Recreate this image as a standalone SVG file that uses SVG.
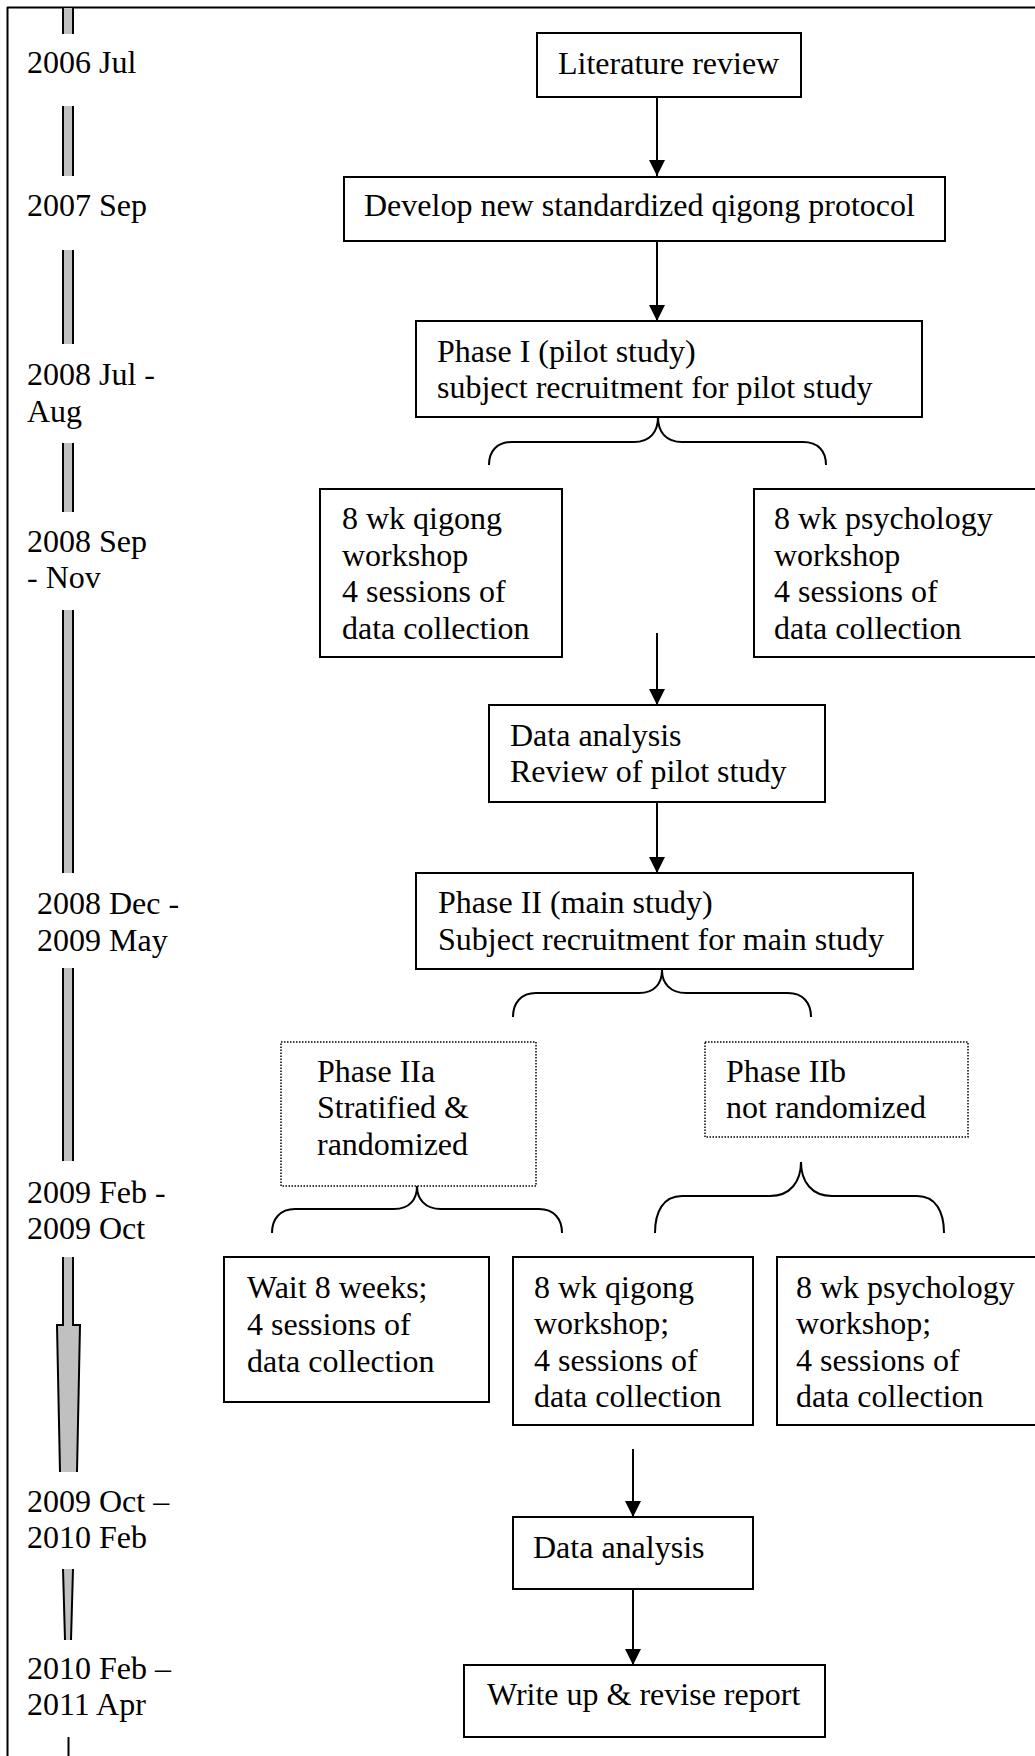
<svg xmlns="http://www.w3.org/2000/svg" width="1035" height="1756" viewBox="0 0 1035 1756">
  <style>
    text { font-family: "Liberation Serif", "Times New Roman", serif; font-size: 32px; fill: #000; }
    .box { fill: #fff; stroke: #000; stroke-width: 2; }
    .dot { fill: #fff; stroke: #000; stroke-width: 1.5; stroke-dasharray: 1.5 1.5; }
    .conn { fill: none; stroke: #000; stroke-width: 2; }
    .bar { fill: #c0c0c0; stroke: none; }
    .edge { fill: none; stroke: #000; stroke-width: 2; }
  </style>
  <defs>
    <marker id="arrow" markerUnits="userSpaceOnUse" markerWidth="16" markerHeight="16" refX="16" refY="8" orient="auto">
      <path d="M0,0 L16,8 L0,16 Z" fill="#000"/>
    </marker>
  </defs>

  <rect x="0" y="0" width="1035" height="1756" fill="#fff"/>

  <!-- frame -->
  <g id="frame">
    <line x1="7" y1="7.5" x2="1035" y2="7.5" stroke="#000" stroke-width="2"/>
    <line x1="7.5" y1="7" x2="7.5" y2="1756" stroke="#000" stroke-width="2"/>
  </g>

  <!-- time axis -->
  <g id="timeline">
    <rect class="bar" x="63" y="8" width="10" height="26"/>
    <path class="edge" d="M63,8 V34 M73,8 V34"/>
    <rect class="bar" x="63" y="106" width="10" height="70"/>
    <path class="edge" d="M63,106 V176 M73,106 V176"/>
    <rect class="bar" x="63" y="250" width="10" height="94"/>
    <path class="edge" d="M63,250 V344 M73,250 V344"/>
    <rect class="bar" x="63" y="443" width="10" height="69"/>
    <path class="edge" d="M63,443 V512 M73,443 V512"/>
    <rect class="bar" x="63" y="610" width="10" height="263"/>
    <path class="edge" d="M63,610 V873 M73,610 V873"/>
    <rect class="bar" x="63" y="968" width="10" height="193"/>
    <path class="edge" d="M63,968 V1161 M73,968 V1161"/>
    <polygon class="bar" points="63,1257 73,1257 73,1325 80,1325 77,1472 60,1472 57,1325 63,1325"/>
    <path class="edge" d="M63,1257 V1325 H57 L60,1472 M73,1257 V1325 H80 L77,1472"/>
    <polygon class="bar" points="63,1569 73,1569 71,1640 65,1640"/>
    <path class="edge" d="M63,1569 L65,1640 M73,1569 L71,1640"/>
    <line x1="68.5" y1="1737" x2="68.5" y2="1756" stroke="#000" stroke-width="2"/>
  </g>

  <!-- dates -->
  <g id="dates">
    <text x="27" y="73">2006 Jul</text>
    <text x="27" y="216">2007 Sep</text>
    <text x="27" y="385">2008 Jul -</text>
    <text x="27" y="422">Aug</text>
    <text x="27" y="552">2008 Sep</text>
    <text x="27" y="588">- Nov</text>
    <text x="37" y="914">2008 Dec -</text>
    <text x="37" y="951">2009 May</text>
    <text x="27" y="1203">2009 Feb -</text>
    <text x="27" y="1239">2009 Oct</text>
    <text x="27" y="1512">2009 Oct –</text>
    <text x="27" y="1548">2010 Feb</text>
    <text x="27" y="1679">2010 Feb –</text>
    <text x="27" y="1715">2011 Apr</text>
  </g>

  <!-- connectors -->
  <g id="connectors">
    <line class="conn" x1="657" y1="97" x2="657" y2="176" marker-end="url(#arrow)"/>
    <line class="conn" x1="657" y1="241" x2="657" y2="321" marker-end="url(#arrow)"/>
    <path class="conn" d="M489,465 C489,451 497,442 512,442 L634,442 C650,442 658,432 658,417 C658,432 666,442 682,442 L803,442 C818,442 826,451 826,465"/>
    <line class="conn" x1="657" y1="633" x2="657" y2="705" marker-end="url(#arrow)"/>
    <line class="conn" x1="657" y1="802" x2="657" y2="873" marker-end="url(#arrow)"/>
    <path class="conn" d="M513,1017 C513,1003 521,993 536,993 L639,993 C655,993 662,983 662,970 C662,983 670,993 686,993 L788,993 C803,993 811,1003 811,1017"/>
    <path class="conn" d="M272,1233 C272,1219 280,1209 295,1209 L394,1209 C410,1209 417,1199 417,1186 C417,1199 425,1209 441,1209 L539,1209 C554,1209 562,1219 562,1233"/>
    <path class="conn" d="M655,1233 C655,1212 663,1196 682,1196 L770,1196 C790,1196 801,1182 801,1162 C801,1182 812,1196 832,1196 L917,1196 C936,1196 944,1212 944,1233"/>
    <line class="conn" x1="633" y1="1449" x2="633" y2="1517" marker-end="url(#arrow)"/>
    <line class="conn" x1="633" y1="1589" x2="633" y2="1665" marker-end="url(#arrow)"/>
  </g>

  <g id="literature-review">
    <rect class="box" x="537" y="33" width="264" height="64"/>
    <text x="558" y="74">Literature review</text>
  </g>

  <g id="develop-protocol">
    <rect class="box" x="344" y="177" width="601" height="64"/>
    <text x="364" y="216">Develop new standardized qigong protocol</text>
  </g>

  <g id="phase-1">
    <rect class="box" x="416" y="321" width="506" height="96"/>
    <text x="437" y="362">Phase I (pilot study)</text>
    <text x="437" y="398">subject recruitment for pilot study</text>
  </g>

  <g id="pilot-qigong">
    <rect class="box" x="320" y="489" width="242" height="168"/>
    <text x="342" y="529">8 wk qigong</text>
    <text x="342" y="566">workshop</text>
    <text x="342" y="602">4 sessions of</text>
    <text x="342" y="639">data collection</text>
  </g>

  <g id="pilot-psychology">
    <rect class="box" x="754" y="489" width="290" height="168"/>
    <text x="774" y="529">8 wk psychology</text>
    <text x="774" y="566">workshop</text>
    <text x="774" y="602">4 sessions of</text>
    <text x="774" y="639">data collection</text>
  </g>

  <g id="pilot-analysis">
    <rect class="box" x="489" y="705" width="336" height="97"/>
    <text x="510" y="746">Data analysis</text>
    <text x="510" y="782">Review of pilot study</text>
  </g>

  <g id="phase-2">
    <rect class="box" x="416" y="873" width="497" height="96"/>
    <text x="438" y="913">Phase II (main study)</text>
    <text x="438" y="950">Subject recruitment for main study</text>
  </g>

  <g id="phase-2a">
    <rect class="dot" x="281" y="1042" width="255" height="144"/>
    <text x="317" y="1082">Phase IIa</text>
    <text x="317" y="1118">Stratified &amp;</text>
    <text x="317" y="1155">randomized</text>
  </g>

  <g id="phase-2b">
    <rect class="dot" x="705" y="1042" width="263" height="95"/>
    <text x="726" y="1082">Phase IIb</text>
    <text x="726" y="1118">not randomized</text>
  </g>

  <g id="main-wait">
    <rect class="box" x="224" y="1257" width="265" height="145"/>
    <text x="247" y="1298">Wait 8 weeks;</text>
    <text x="247" y="1335">4 sessions of</text>
    <text x="247" y="1372">data collection</text>
  </g>

  <g id="main-qigong">
    <rect class="box" x="513" y="1257" width="240" height="168"/>
    <text x="534" y="1298">8 wk qigong</text>
    <text x="534" y="1334">workshop;</text>
    <text x="534" y="1371">4 sessions of</text>
    <text x="534" y="1407">data collection</text>
  </g>

  <g id="main-psychology">
    <rect class="box" x="777" y="1257" width="267" height="168"/>
    <text x="796" y="1298">8 wk psychology</text>
    <text x="796" y="1334">workshop;</text>
    <text x="796" y="1371">4 sessions of</text>
    <text x="796" y="1407">data collection</text>
  </g>

  <g id="main-analysis">
    <rect class="box" x="513" y="1517" width="240" height="72"/>
    <text x="533" y="1558">Data analysis</text>
  </g>

  <g id="report">
    <rect class="box" x="464" y="1665" width="361" height="72"/>
    <text x="487" y="1705">Write up &amp; revise report</text>
  </g>
</svg>
